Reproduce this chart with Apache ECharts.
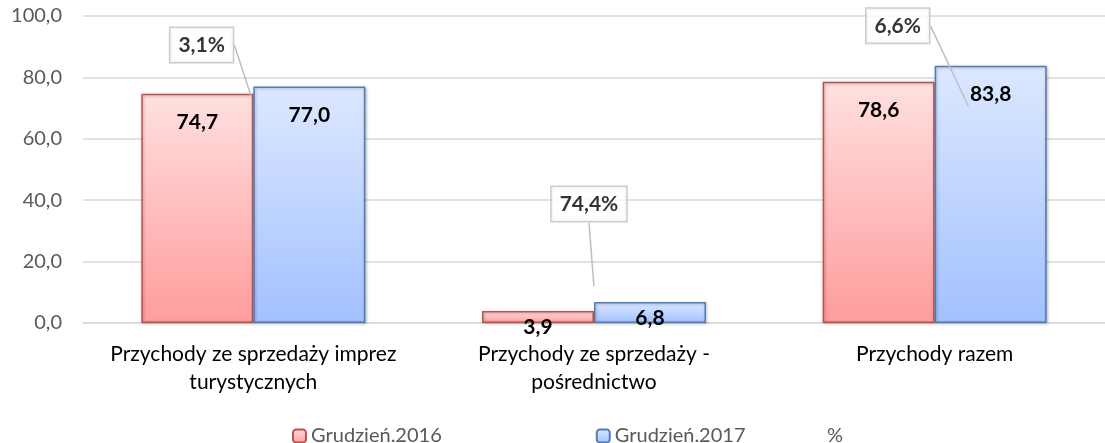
<!DOCTYPE html>
<html>
<head>
  <meta charset="UTF-8">
  <title>Przychody</title>
  <script src="https://cdn.jsdelivr.net/npm/echarts@6/dist/echarts.min.js"></script>
  <style type="text/css">
  body { margin: 0; background: #ffffff; }
  </style>
</head>
<body>
  <div id="chart" style="width:1105px; height:443px;"></div>

  <script>
    // dane
    var categories = ['Przychody ze sprzedaży imprez\nturystycznych', 'Przychody ze sprzedaży -\npośrednictwo', 'Przychody razem'];
    var seriesNames = ['Grudzień.2016', 'Grudzień.2017', '%'];
    var values2016 = [74.7, 3.9, 78.6];
    var values2017 = [77.0, 6.8, 83.8];
    var changePct = [3.1, 74.4, 6.6];
    // punkty, do ktorych prowadza dymki (x w jednostkach kategorii, y w jednostkach osi)
    var anchorX = [0.495, 1.5, 2.6];
    var anchorY = [73.3, 11.7, 70.4];

    var yMin = 0, yMax = 100, yStep = 20;

    function comma(v, d) {
      return v.toFixed(d).replace('.', ',');
    }

    function grad(top, bottom) {
      return new echarts.graphic.LinearGradient(0, 0, 0, 1, [
        {offset: 0, color: top}, {offset: 1, color: bottom}
      ]);
    }

    function barData(values) {
      return values.map(function (v) {
        return v < 10 ? {value: v, label: {distance: 6}} : v;
      });
    }

    var calloutData = changePct.map(function (p, i) {
      return [anchorX[i], anchorY[i], p];
    });
    var calloutShift = [[-50, -53], [-5, -83], [-71, -81]];

    var barLabel = {
      show: true,
      position: 'insideTop',
      distance: 18,
      fontFamily: 'Lato',
      fontWeight: 'bold',
      fontSize: 21,
      color: '#000000',
      formatter: function (p) { return comma(p.value, 1); }
    };

    var legendText = {fontFamily: 'Lato', fontSize: 20, color: '#595959'};

    var chart = echarts.init(document.getElementById('chart'), null, {renderer: 'canvas'});
    chart.setOption({
      animation: false,
      textStyle: {fontFamily: 'Lato'},
      grid: {left: 83, top: 16, width: 1031, height: 307},
      legend: [{
        left: 287,
        top: 421,
        itemWidth: 13,
        itemHeight: 13,
        itemGap: 154,
        textStyle: legendText,
        data: [seriesNames[0], seriesNames[1]]
      }, {
        left: 804,
        top: 421,
        itemWidth: 13,
        itemHeight: 13,
        textStyle: legendText,
        data: [{name: seriesNames[2], icon: 'none'}]
      }],
      xAxis: [{
        type: 'category',
        data: categories,
        axisLine: {lineStyle: {color: '#D9D9D9', width: 1.5}},
        axisTick: {show: false},
        axisLabel: {interval: 0, fontFamily: 'Lato', fontSize: 21, color: '#000000', lineHeight: 28, margin: 17}
      }, {
        type: 'value',
        min: 0,
        max: categories.length,
        show: false
      }],
      yAxis: {
        type: 'value',
        min: yMin,
        max: yMax,
        interval: yStep,
        axisLine: {show: false},
        axisTick: {show: false},
        splitLine: {lineStyle: {color: '#D9D9D9', width: 1.5}},
        axisLabel: {
          fontFamily: 'Lato', fontSize: 20, color: '#595959', margin: 21,
          formatter: function (v) { return comma(v, 1); }
        }
      },
      series: [{
        name: seriesNames[0],
        type: 'bar',
        data: barData(values2016),
        barWidth: 112,
        barGap: '0%',
        itemStyle: {
          color: grad('#FFE0E0', '#FF9C9C'),
          borderColor: '#C0504D',
          borderWidth: 1.5,
          shadowColor: 'rgba(0,0,0,0.25)', shadowBlur: 3, shadowOffsetX: 1, shadowOffsetY: 1
        },
        label: barLabel
      }, {
        name: seriesNames[1],
        type: 'bar',
        data: barData(values2017),
        barWidth: 112,
        barGap: '0%',
        itemStyle: {
          color: grad('#DDE8FF', '#A2C1FF'),
          borderColor: '#4F7DB8',
          borderWidth: 1.5,
          shadowColor: 'rgba(0,0,0,0.25)', shadowBlur: 3, shadowOffsetX: 1, shadowOffsetY: 1
        },
        label: barLabel
      }, {
        name: seriesNames[2],
        type: 'scatter',
        xAxisIndex: 1,
        data: calloutData,
        symbolSize: 2,
        itemStyle: {color: 'rgba(0,0,0,0)'},
        z: 10,
        label: {
          show: true,
          position: 'inside',
          fontFamily: 'Lato',
          fontWeight: 'bold',
          fontSize: 21,
          color: '#000000',
          backgroundColor: '#ffffff',
          borderColor: '#BFBFBF',
          borderWidth: 1.5,
          padding: [7, 8, 6, 8],
          formatter: function (p) { return comma(p.value[2], 1) + '%'; }
        },
        labelLine: {show: true, lineStyle: {color: '#BFBFBF', width: 1.5}},
        labelLayout: function (p) {
          return {dx: calloutShift[p.dataIndex][0], dy: calloutShift[p.dataIndex][1]};
        }
      }]
    });
  </script>
</body>
</html>
